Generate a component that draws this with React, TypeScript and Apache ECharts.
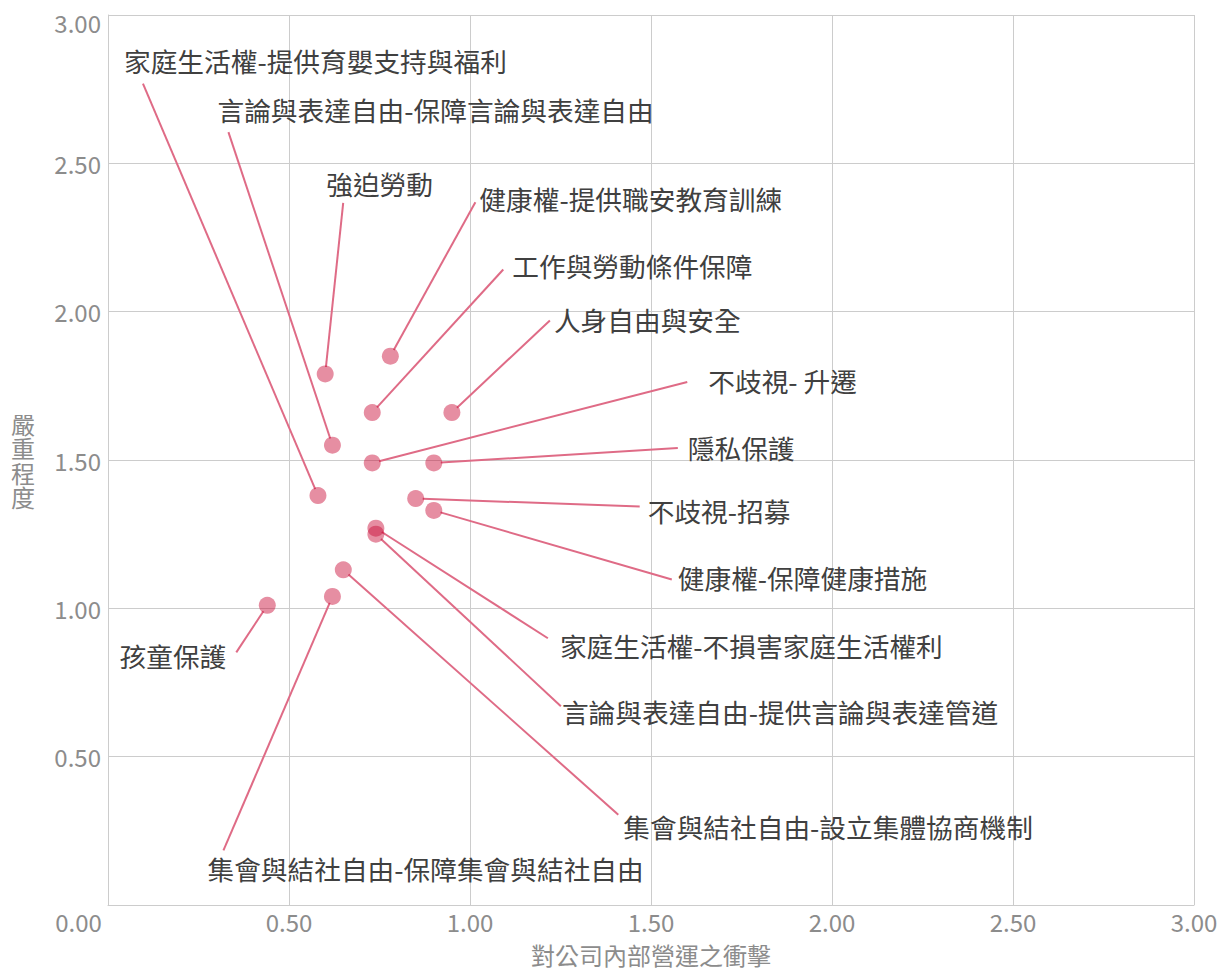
import { useEffect, useRef } from 'react';
import * as echarts from 'echarts';

const FONT = '"Noto Sans CJK TC", "Noto Sans CJK SC", "Noto Sans", sans-serif';

const issues = [
  '家庭生活權-提供育嬰支持與福利',
  '言論與表達自由-保障言論與表達自由',
  '強迫勞動',
  '健康權-提供職安教育訓練',
  '工作與勞動條件保障',
  '人身自由與安全',
  '不歧視- 升遷',
  '隱私保護',
  '不歧視-招募',
  '健康權-保障健康措施',
  '家庭生活權-不損害家庭生活權利',
  '言論與表達自由-提供言論與表達管道',
  '集會與結社自由-設立集體協商機制',
  '孩童保護',
  '集會與結社自由-保障集會與結社自由',
];

// 對公司內部營運之衝擊
const impact = [0.58, 0.62, 0.6, 0.78, 0.73, 0.95, 0.73, 0.9, 0.85, 0.9, 0.74, 0.74, 0.65, 0.44, 0.62];
// 嚴重程度
const severity = [1.38, 1.55, 1.79, 1.85, 1.66, 1.66, 1.49, 1.49, 1.37, 1.33, 1.27, 1.25, 1.13, 1.01, 1.04];

const tickLabels = ['0.00', '0.50', '1.00', '1.50', '2.00', '2.50', '3.00'];

// label layout (pixel offsets from the point): [dx, dy, align]
const textOffsets: [number, number, string][] = [
  [-194, -435, 'left'],
  [-115, -336, 'left'],
  [1, -190, 'left'],
  [89, -158, 'left'],
  [140, -147, 'left'],
  [102, -93, 'left'],
  [336, -82, 'left'],
  [254, -15, 'left'],
  [232, 12, 'left'],
  [244, 67, 'left'],
  [184, 117, 'left'],
  [186, 177, 'left'],
  [280, 257, 'left'],
  [-41, 50, 'right'],
  [-125, 272, 'left'],
];
// leader line end (pixel offsets from the point)
const lineEnds: [number, number][] = [
  [-175, -412],
  [-104, -313],
  [18, -171],
  [85, -154],
  [131, -143],
  [98, -92],
  [315, -81],
  [244, -15],
  [224, 8],
  [238, 69],
  [172, 110],
  [185, 172],
  [275, 245],
  [-31, 47],
  [-109, 254],
];

const DOT = 'rgba(202,10,53,0.58)';
const LINE = '#df6b86';
const GRID = '#cccccc';
const TICK = '#8c8c8c';

export default function App() {
  const ref = useRef<HTMLDivElement>(null);
  useEffect(() => {
    if (!ref.current) return;
    const chart = echarts.init(ref.current, undefined, { renderer: 'svg' });
    const pts = impact.map((x, i) => [x, severity[i]]);
    const labelFmt = (v: number) => tickLabels[Math.round(v / 0.5)] ?? v.toFixed(2);
    chart.setOption({
      animation: false,
      backgroundColor: '#ffffff',
      grid: { left: 108, right: 27, top: 15, bottom: 60, containLabel: false },
      xAxis: {
        type: 'value',
        min: 0,
        max: 3,
        interval: 0.5,
        name: '對公司內部營運之衝擊',
        nameLocation: 'middle',
        nameGap: 37,
        nameTextStyle: { color: TICK, fontSize: 24, fontFamily: FONT },
        axisLine: { show: true, lineStyle: { color: GRID, width: 1 } },
        axisTick: { show: false },
        splitLine: { show: true, lineStyle: { color: GRID, width: 1 } },
        axisLabel: {
          color: TICK,
          fontSize: 24,
          fontFamily: FONT,
          margin: 4,
          formatter: (v: number) => (v === 0 ? '{z|' + labelFmt(v) + '}' : labelFmt(v)),
          rich: {
            z: { color: TICK, fontSize: 24, fontFamily: FONT, padding: [0, 59, 0, 0] },
          },
        },
      },
      yAxis: {
        type: 'value',
        min: 0,
        max: 3,
        interval: 0.5,
        name: '嚴\n重\n程\n度',
        nameLocation: 'middle',
        nameRotate: 0,
        nameGap: 73,
        nameTextStyle: { color: TICK, fontSize: 24, lineHeight: 24.5, fontFamily: FONT },
        axisLine: { show: true, lineStyle: { color: GRID, width: 1 } },
        axisTick: { show: false },
        splitLine: { show: true, lineStyle: { color: GRID, width: 1 } },
        axisLabel: {
          color: TICK,
          fontSize: 24,
          fontFamily: FONT,
          margin: 7,
          formatter: (v: number) => (v === 0 ? '' : v === 3 ? '{t|' + labelFmt(v) + '}' : labelFmt(v)),
          rich: {
            t: { color: TICK, fontSize: 24, fontFamily: FONT, padding: [14, 0, 0, 0] },
          },
        },
      },
      series: [
        {
          type: 'custom',
          silent: true,
          z: 1,
          clip: false,
          data: pts,
          encode: { x: 0, y: 1 },
          renderItem: (params: any, api: any) => {
            const i = params.dataIndex;
            const p = api.coord([api.value(0), api.value(1)]);
            const [ex, ey] = lineEnds[i];
            const len = Math.hypot(ex, ey);
            const r = 7;
            const [tx, ty, align] = textOffsets[i];
            return {
              type: 'group',
              children: [
                {
                  type: 'line',
                  shape: { x1: p[0] + (ex / len) * r, y1: p[1] + (ey / len) * r, x2: p[0] + ex, y2: p[1] + ey },
                  style: { stroke: LINE, lineWidth: 2 },
                },
                {
                  type: 'text',
                  x: p[0] + tx,
                  y: p[1] + ty,
                  style: {
                    text: issues[i],
                    fill: '#404040',
                    fontSize: 26.7,
                    fontFamily: FONT,
                    align,
                    verticalAlign: 'middle',
                  },
                },
              ],
            };
          },
        },
        {
          type: 'scatter',
          z: 2,
          symbolSize: 17,
          data: pts,
          itemStyle: { color: DOT },
        },
      ],
    });
    return () => chart.dispose();
  }, []);
  return (
    <div
      ref={ref}
      style={{ position: 'fixed', left: 0, top: 0, width: 1221, height: 971, background: '#fff' }}
    />
  );
}
